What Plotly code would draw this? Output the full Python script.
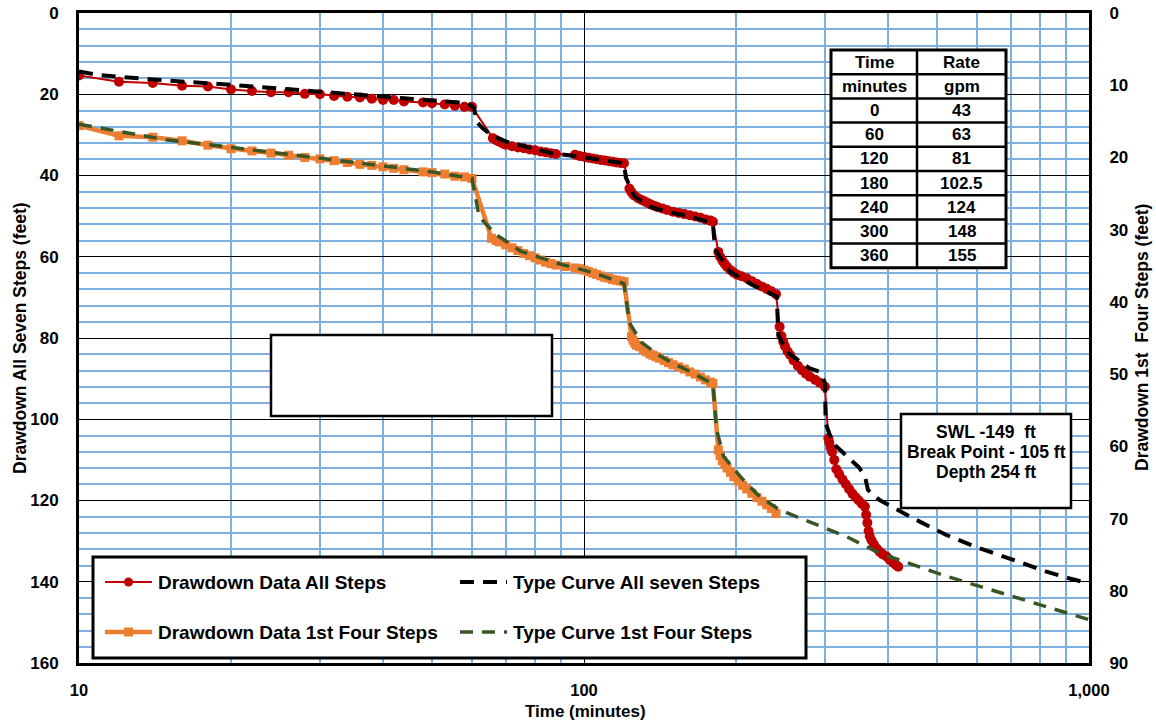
import plotly.graph_objects as go

# ---------------- data ----------------
# Drawdown data, all seven steps (left axis, feet)
time_all = [10, 12, 14, 16, 18, 20, 22, 24, 26, 28, 30, 32, 34, 36, 38, 40, 42, 44, 48, 50, 53, 55.5, 58, 60,
            66, 67, 68, 69, 70, 72, 74, 76, 78, 80, 82, 84, 86, 88, 96, 98, 100, 102, 104, 106, 108, 110, 112, 114, 116, 118, 120,
            123, 124, 125, 126, 128, 130, 132, 134, 136, 138, 140, 143, 146, 150, 154, 158, 162, 166, 170, 174, 178, 180,
            184.5, 186, 188, 190, 192, 195, 198, 201, 205, 210, 215, 220, 225, 230, 235, 240,
            244, 246, 248, 250, 253, 256, 260, 265, 270, 275, 280, 287, 293, 300,
            304.7, 306, 308, 310, 313, 316, 320, 325, 330, 335, 340, 345, 350, 355, 360,
            362, 364, 366, 368, 371, 375, 380, 385, 390, 397, 403, 410, 415, 419]
dd_all = [15.4, 16.9, 17.2, 17.9, 18.1, 18.8, 19.2, 19.5, 19.5, 19.9, 20.0, 20.4, 20.6, 20.8, 21.1, 21.4, 21.4, 21.8, 22.0, 22.2, 22.5, 22.8, 23.1, 23.1,
          30.8, 31.3, 31.7, 32.1, 32.4, 32.8, 33.1, 33.3, 33.6, 33.8, 34.1, 34.3, 34.5, 34.7, 34.9, 35.2, 35.4, 35.6, 35.8, 36.0, 36.2, 36.3, 36.5, 36.6, 36.8, 36.9, 37.0,
          43.2, 44.0, 44.6, 45.0, 45.6, 46.0, 46.4, 46.8, 47.2, 47.5, 47.8, 48.1, 48.5, 48.9, 49.2, 49.5, 49.8, 50.1, 50.4, 50.8, 51.1, 51.4,
          58.8, 60.0, 61.0, 61.8, 62.5, 63.3, 63.9, 64.4, 64.8, 65.3, 66.0, 66.7, 67.3, 67.9, 68.5, 69.2,
          77.2, 79.5, 80.9, 82.0, 83.3, 84.2, 85.5, 86.8, 87.9, 88.8, 89.5, 90.3, 91.0, 92.0,
          104.7, 105.8, 107.0, 108.0, 110.0, 112.3, 113.5, 114.8, 116.0, 117.2, 118.3, 119.2, 120.0, 120.8, 121.5,
          123.5, 125.5, 127.5, 128.8, 129.8, 130.8, 131.8, 132.6, 133.2, 133.8, 134.6, 135.4, 135.9, 136.3]

# Type curve, all seven steps (left axis, feet)
time_tc7 = [10, 11, 14.5, 17.4, 20.2, 27.4, 31.8, 40.5, 51.2, 59, 60.6, 61.3, 63, 66.2, 70.3, 77, 86.4, 98.2, 114, 120,
            121, 126, 135, 145.7, 162, 177.5, 180, 181, 183, 194.6, 216, 226.5, 240.8, 242.6, 252, 280, 293, 300,
            301, 311, 334, 350, 360, 365, 385, 449, 522, 608, 708, 824, 916, 1000]
dd_tc7 = [14.4, 15.3, 16.5, 17.1, 17.7, 19.0, 19.6, 20.5, 21.4, 22.2, 23.5, 26.8, 28.4, 30.4, 31.7, 32.9, 34.5, 35.4, 36.6, 37.0,
          40.5, 45.2, 47.7, 48.9, 50.1, 51.4, 51.8, 55.5, 58.8, 63.7, 67.0, 68.2, 69.8, 79.3, 83.4, 87.5, 88.3, 91.0,
          101.0, 105.9, 109.5, 111.8, 114.0, 117.4, 119.9, 124.4, 128.5, 131.8, 134.6, 137.5, 139.2, 140.4]

# Drawdown data, first four steps (right axis, feet)
time_4 = [10, 12, 14, 16, 18, 20, 22, 24, 26, 28, 30, 32, 34, 36, 38, 40, 42, 44, 48, 50, 53, 55.5, 58, 60,
          65.6, 67, 68, 70, 72, 74, 76, 78, 80, 82, 84, 86, 88, 92, 96, 98, 100, 102, 104, 106, 108, 110, 112, 114, 116, 118, 120,
          124.2, 125, 126, 127, 129, 131, 133, 135, 137, 139, 141, 144, 147, 150, 154, 158, 162, 166, 170, 174, 178, 180,
          184.5, 186, 188, 190, 192, 195, 198, 202, 206, 210, 215, 220, 225, 230, 235, 240]
dd_4 = [15.6, 17.0, 17.2, 17.7, 18.3, 18.8, 19.1, 19.4, 19.7, 20.0, 20.2, 20.45, 20.7, 20.95, 21.1, 21.3, 21.5, 21.7, 22.0, 22.1, 22.3, 22.6, 22.7, 22.9,
        31.2, 31.5, 31.7, 32.1, 32.5, 32.9, 33.3, 33.6, 33.9, 34.2, 34.5, 34.7, 34.9, 35.1, 35.3, 35.4, 35.6, 35.8, 36.0, 36.2, 36.4, 36.6, 36.7, 36.9, 37.0, 37.1, 37.2,
        44.8, 45.3, 45.7, 46.0, 46.2, 46.6, 46.9, 47.2, 47.4, 47.6, 47.8, 48.1, 48.4, 48.7, 49.0, 49.3, 49.7, 50.0, 50.4, 50.8, 51.1, 51.3,
        60.5, 61.3, 62.0, 62.5, 63.0, 63.6, 64.2, 64.8, 65.4, 65.9, 66.5, 67.1, 67.6, 68.1, 68.6, 69.3]

# Type curve, first four steps (right axis, feet)
time_tc4 = [10, 15, 20, 30, 40, 50, 60, 62, 67, 75, 90, 100, 110, 120, 123, 130, 140, 150, 165, 180,
            183, 189, 204, 223, 244, 285, 331, 385, 449, 523, 608, 708, 1000]
dd_tc4 = [15.4, 17.6, 18.6, 20.1, 21.2, 22.0, 22.9, 28.2, 30.7, 33.0, 34.8, 35.6, 36.5, 37.5, 42.9, 45.6, 47.3, 48.5, 49.9, 51.4,
          57.7, 61.4, 64.2, 67.0, 68.8, 70.65, 72.5, 74.8, 76.4, 78.0, 79.4, 80.8, 84.0]

# Pumping schedule
step_time = ["0", "60", "120", "180", "240", "300", "360"]
step_rate = ["43", "63", "81", "102.5", "124", "148", "155"]

# Well notes
well_notes = ["SWL -149  ft", "Break Point - 105 ft", "Depth 254 ft"]

# Axis ticks
x_major = [10, 100, 1000]
x_major_text = ["10", "100", "1,000"]
x_minor = [20, 30, 40, 50, 60, 70, 80, 90, 200, 300, 400, 500, 600, 700, 800, 900]

# ---------------- styling ----------------
FONT = "Liberation Sans, Arial, sans-serif"
RED = "#C00000"
ORANGE = "#ED7D31"
GREEN = "#375623"
BLUE_GRID = "#7DB0E0"

W, H = 1156, 726
L, R, T, B = 79, 1089, 13, 663


def px(x):
    return (x - L) / (R - L)


def py(y):
    return (B - y) / (B - T)


def bold(size, color="#000000"):
    return dict(family=FONT, size=size, color=color, weight="bold")


fig = go.Figure()

fig.add_trace(go.Scatter(
    x=time_all, y=dd_all, name="Drawdown Data All Steps", mode="lines+markers",
    line=dict(color=RED, width=2), marker=dict(symbol="circle", size=10, color=RED),
    yaxis="y", showlegend=False))
fig.add_trace(go.Scatter(
    x=time_4, y=dd_4, name="Drawdown Data 1st Four Steps", mode="lines+markers",
    line=dict(color=ORANGE, width=4.5), marker=dict(symbol="square", size=9, color=ORANGE),
    yaxis="y2", showlegend=False))
fig.add_trace(go.Scatter(
    x=time_tc7, y=dd_tc7, name="Type Curve All seven Steps", mode="lines",
    line=dict(color="#000000", width=4, dash="14px,9px"),
    yaxis="y", showlegend=False))
fig.add_trace(go.Scatter(
    x=time_tc4, y=dd_tc4, name="Type Curve 1st Four Steps", mode="lines",
    line=dict(color=GREEN, width=3.5, dash="13px,9px"),
    yaxis="y2", showlegend=False))

shapes = []
annotations = []


def box(x0, y0, x1, y1, width=2.5):
    shapes.append(dict(type="rect", xref="paper", yref="paper",
                       x0=px(x0), x1=px(x1), y0=py(y1), y1=py(y0),
                       line=dict(color="#000000", width=width),
                       fillcolor="#FFFFFF", layer="above"))


def hline(x0, x1, y, color="#000000", width=2.5, dash="solid"):
    shapes.append(dict(type="line", xref="paper", yref="paper",
                       x0=px(x0), x1=px(x1), y0=py(y), y1=py(y),
                       line=dict(color=color, width=width, dash=dash), layer="above"))


def text(x, y, s, size=17, xanchor="center", angle=0):
    annotations.append(dict(xref="paper", yref="paper", x=px(x), y=py(y), text=s,
                            showarrow=False, xanchor=xanchor, yanchor="middle",
                            textangle=angle, font=bold(size)))


# Axis titles
text(585, 711, "Time (minutes)", 17)
text(20, 338, "Drawdown All Seven Steps (feet)", 17.5, angle=-90)
text(1142, 338, "Drawdown 1st  Four Steps (feet)", 17.5, angle=-90)

# Empty label box
box(271, 335, 552, 416)

# Pumping schedule table
tx0, tx1, tcol = 831, 1006, 917
ty0, row_h = 50, 24.2
rows = [("Time", "Rate"), ("minutes", "gpm")] + list(zip(step_time, step_rate))
ty1 = ty0 + row_h * len(rows)
box(tx0, ty0, tx1, ty1, width=3)
shapes.append(dict(type="line", xref="paper", yref="paper", x0=px(tcol), x1=px(tcol),
                   y0=py(ty1), y1=py(ty0), line=dict(color="#000000", width=2.5), layer="above"))
for i, (a, b) in enumerate(rows):
    yc = ty0 + row_h * (i + 0.5)
    if i > 0:
        hline(tx0, tx1, ty0 + row_h * i)
    text((tx0 + tcol) / 2, yc, a, 17)
    text((tcol + tx1) / 2, yc, b, 17)

# Well notes box
box(901, 414, 1071, 508)
for i, s in enumerate(well_notes):
    text(986, 432 + 20 * i, s, 17.5)

# Legend
box(93, 557, 806, 658, width=3)
legend_items = [
    (105, 582, RED, 2, "solid", "circle", "Drawdown Data All Steps"),
    (460, 582, "#000000", 4, "14px,9px", None, "Type Curve All seven Steps"),
    (105, 632, ORANGE, 4.5, "solid", "square", "Drawdown Data 1st Four Steps"),
    (460, 632, GREEN, 3.5, "13px,9px", None, "Type Curve 1st Four Steps"),
]
for x0, y0, col, lw, dash, sym, label in legend_items:
    hline(x0, x0 + 47, y0, color=col, width=lw, dash=dash)
    if sym:
        r = 4.5
        shapes.append(dict(type="circle" if sym == "circle" else "rect",
                           xref="paper", yref="paper",
                           x0=px(x0 + 23.5 - r), x1=px(x0 + 23.5 + r),
                           y0=py(y0 + r), y1=py(y0 - r),
                           line=dict(color=col, width=0), fillcolor=col, layer="above"))
    text(x0 + 51, y0, label, 19, xanchor="left")

fig.update_layout(
    width=W, height=H,
    margin=dict(l=L, r=W - R, t=T, b=H - B, autoexpand=False),
    paper_bgcolor="#FFFFFF", plot_bgcolor="#FFFFFF",
    font=bold(16),
    xaxis=dict(
        type="log", range=[1, 3],
        tickmode="array", tickvals=x_major, ticktext=x_major_text,
        tickfont=bold(16.5), ticks="", ticklabelstandoff=10,
        showgrid=True, gridcolor="#000000", gridwidth=1,
        minor=dict(tickmode="array", tickvals=x_minor, showgrid=True,
                   gridcolor=BLUE_GRID, gridwidth=1.5, ticks=""),
        showline=True, linecolor="#000000", linewidth=3, mirror=True,
        zeroline=False,
    ),
    yaxis=dict(
        range=[160, 0], tickmode="linear", tick0=0, dtick=20,
        tickfont=bold(17), ticks="", ticklabelstandoff=14,
        showgrid=True, gridcolor="#000000", gridwidth=1,
        minor=dict(dtick=4, showgrid=True, gridcolor=BLUE_GRID, gridwidth=1.5, ticks=""),
        showline=True, linecolor="#000000", linewidth=3, mirror=True,
        zeroline=False,
    ),
    yaxis2=dict(
        overlaying="y", side="right", range=[90, 0],
        tickmode="linear", tick0=0, dtick=10,
        tickfont=bold(17), ticks="", ticklabelstandoff=14,
        showgrid=False, zeroline=False,
        showline=True, linecolor="#000000", linewidth=3,
    ),
    shapes=shapes,
    annotations=annotations,
)

fig.write_html("out.html")
